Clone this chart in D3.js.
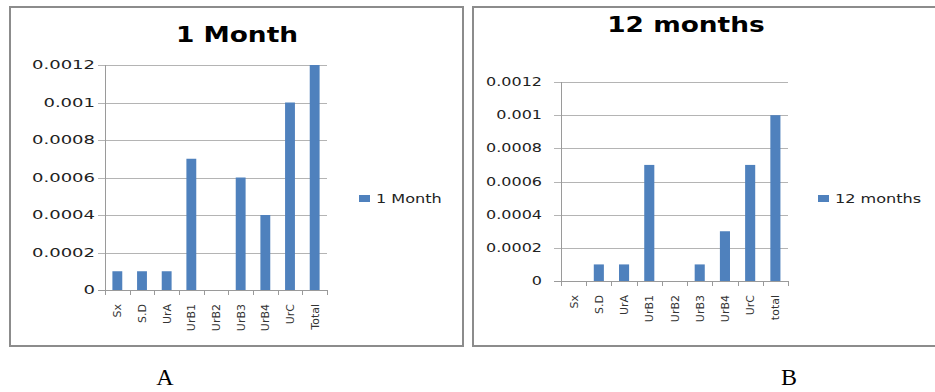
<!DOCTYPE html>
<html lang="en">
<head>
  <meta charset="utf-8">
  <title>1 Month / 12 months</title>
  <script src="https://d3js.org/d3.v7.min.js"></script>
  <style>
    body { margin: 0; background: #fff; }
    svg text { font-family: "DejaVu Sans", sans-serif; }
  </style>
</head>
<body>
<script type="text/javascript">

  // categories on the x axis
  var catsA = ["Sx", "S.D", "UrA", "UrB1", "UrB2", "UrB3", "UrB4", "UrC", "Total"];
  var catsB = ["Sx", "S.D", "UrA", "UrB1", "UrB2", "UrB3", "UrB4", "UrC", "total"];

  // series values
  var oneMonth = [0.0001, 0.0001, 0.0001, 0.0007, 0, 0.0006, 0.0004, 0.001, 0.0012];
  var twelveMonths = [0, 0.0001, 0.0001, 0.0007, 0, 0.0001, 0.0003, 0.0007, 0.001];

  // y tick labels
  var yTicks = [0, 0.0002, 0.0004, 0.0006, 0.0008, 0.001, 0.0012];
  var yMax = 0.0012;

  var barColor = "#4f81bd";

  var svg = d3.select("body").append("svg")
    .attr("width", 935)
    .attr("height", 392);

  // the picture is stretched sideways, so stretch text the same way
  function stretch(sel, k) {
    sel.each(function() {
      var w = this.getComputedTextLength();
      d3.select(this).attr("textLength", w * k).attr("lengthAdjust", "spacingAndGlyphs");
    });
  }

  function drawPanel(p) {
    var g = svg.append("g");

    // frame
    g.append("rect")
      .attr("x", p.box[0]).attr("y", p.box[1])
      .attr("width", p.box[2]).attr("height", p.box[3])
      .attr("fill", "none").attr("stroke", "#8c8c8c").attr("stroke-width", 2);

    var x = d3.scaleBand().domain(p.cats).range([p.left, p.right]).paddingInner(0.6).paddingOuter(0.3);
    var band = d3.scaleBand().domain(p.cats).range([p.left, p.right]);
    var y = d3.scaleLinear().domain([0, yMax]).range([p.bottom, p.top]);

    // gridlines
    g.selectAll(".grid").data(yTicks).enter().append("line")
      .attr("x1", p.left - 7).attr("x2", p.right)
      .attr("y1", function(d) { return Math.round(y(d)) + 0.5; })
      .attr("y2", function(d) { return Math.round(y(d)) + 0.5; })
      .attr("stroke", function(d) { return d === 0 ? "#9a9a9a" : "#b4b4b4"; })
      .attr("stroke-width", 1);

    // y axis line
    g.append("line")
      .attr("x1", p.left + 0.5).attr("x2", p.left + 0.5)
      .attr("y1", p.top).attr("y2", p.bottom)
      .attr("stroke", "#9a9a9a");

    // y tick labels
    var yl = g.selectAll(".ylab").data(yTicks).enter().append("text")
      .attr("x", p.left - p.labGap)
      .attr("y", function(d) { return y(d) + 4; })
      .attr("text-anchor", "end")
      .attr("font-size", 12)
      .attr("fill", "#222")
      .text(function(d) { return d3.format("")(d); });
    stretch(yl, p.yStretch);

    // x tick marks at category edges
    var edges = p.cats.map(function(c) { return band(c); }).concat([p.right]);
    g.selectAll(".xtick").data(edges).enter().append("line")
      .attr("x1", function(d) { return Math.round(d) + 0.5; })
      .attr("x2", function(d) { return Math.round(d) + 0.5; })
      .attr("y1", p.bottom).attr("y2", p.bottom + 5)
      .attr("stroke", "#9a9a9a");

    // bars
    var vals = p.values;
    g.selectAll(".bar").data(p.cats).enter().append("rect")
      .attr("x", function(d) { return x(d); })
      .attr("width", x.bandwidth())
      .attr("y", function(d, i) { return y(vals[i]); })
      .attr("height", function(d, i) { return p.bottom - y(vals[i]); })
      .attr("fill", barColor);

    // x labels, rotated
    g.selectAll(".xlab").data(p.cats).enter().append("text")
      .attr("transform", function(d) {
        return "translate(" + (band(d) + band.bandwidth() / 2 + 4) + "," + p.labTop + ") rotate(-90)";
      })
      .attr("text-anchor", "end")
      .attr("font-size", 11)
      .attr("fill", "#333")
      .text(function(d) { return d; });

    // title
    var t = g.append("text")
      .attr("x", p.titleX).attr("y", p.titleY)
      .attr("text-anchor", "middle")
      .attr("font-size", 22)
      .attr("font-weight", "bold")
      .attr("fill", "#000")
      .text(p.title);
    stretch(t, 1.2);

    // legend
    g.append("rect")
      .attr("x", p.legX).attr("y", 195)
      .attr("width", 11).attr("height", 7)
      .attr("fill", barColor);
    var lt = g.append("text")
      .attr("x", p.legX + 17).attr("y", 203)
      .attr("font-size", 12)
      .attr("fill", "#222")
      .text(p.title);
    stretch(lt, 1.34);

    // panel letter
    g.append("text")
      .attr("x", p.letterX).attr("y", 385)
      .attr("text-anchor", "middle")
      .attr("font-size", 24)
      .style("font-family", "'Liberation Serif', serif")
      .attr("fill", "#000")
      .text(p.letter);
  }

  drawPanel({
    cats: catsA, values: oneMonth, title: "1 Month", letter: "A",
    box: [10, 7, 453, 339],
    left: 105, right: 327, top: 65, bottom: 290,
    labGap: 10, yStretch: 1.5, labTop: 304,
    titleX: 237, titleY: 42, legX: 359, letterX: 165
  });

  drawPanel({
    cats: catsB, values: twelveMonths, title: "12 months", letter: "B",
    box: [473, 7, 480, 339],
    left: 561, right: 788, top: 82, bottom: 281,
    labGap: 19, yStretch: 1.33, labTop: 295,
    titleX: 686, titleY: 32, legX: 818, letterX: 789
  });

</script>
</body>
</html>
